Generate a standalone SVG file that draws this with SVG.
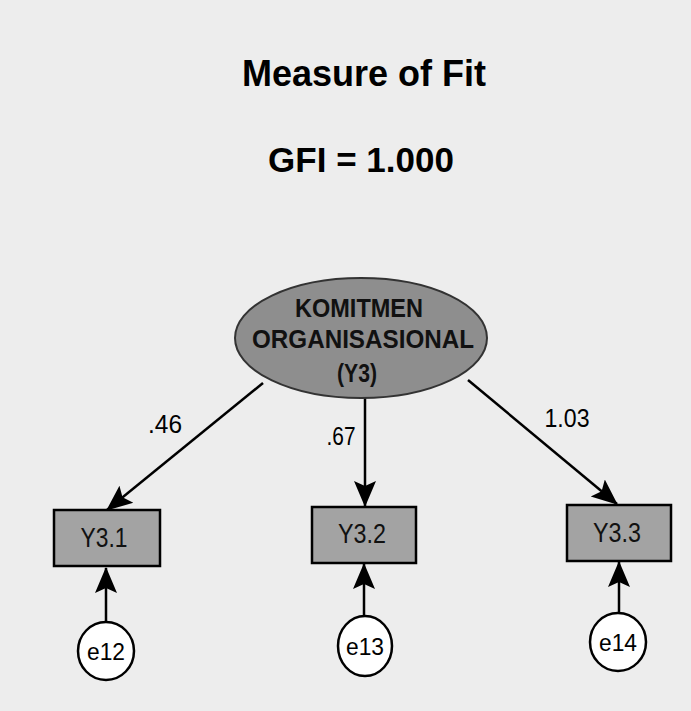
<svg xmlns="http://www.w3.org/2000/svg" width="691" height="711" viewBox="0 0 691 711">
<defs>
<marker id="ah" markerUnits="userSpaceOnUse" markerWidth="26" markerHeight="24" viewBox="0 0 26 24" refX="25" refY="12" orient="auto">
<path d="M0,1 L26,12 L0,23 L5,12 Z" fill="#000"/>
</marker>
</defs>
<style>
.title{font-family:"Liberation Sans",Arial,sans-serif;font-weight:bold;fill:#000;text-anchor:middle}
.lat{font-family:"Liberation Sans",Arial,sans-serif;font-weight:bold;font-size:25px;fill:#111;text-anchor:middle}
.obs{font-family:"Liberation Sans",Arial,sans-serif;font-size:27px;fill:#111;text-anchor:middle}
.err{font-family:"Liberation Sans",Arial,sans-serif;font-size:24px;fill:#000;text-anchor:middle}
.lbl{font-family:"Liberation Sans",Arial,sans-serif;font-size:25px;fill:#000;text-anchor:middle}
.box{fill:#a3a3a3;stroke:#000;stroke-width:2.5}
.ell{fill:#8e8e8e;stroke:#333;stroke-width:2}
.circ{fill:#fff;stroke:#000;stroke-width:2.5}
.edge{stroke:#000;stroke-width:2.5;fill:none;marker-end:url(#ah)}
</style>
<rect x="0" y="0" width="691" height="711" fill="#ededed"/>
<text class="title" x="364" y="86" font-size="36">Measure of Fit</text>
<text class="title" x="361" y="172" font-size="35">GFI = 1.000</text>
<g id="connectors">
<line class="edge" x1="263" y1="383" x2="107" y2="510"/>
<line class="edge" x1="365" y1="398" x2="365" y2="506"/>
<line class="edge" x1="468" y1="380" x2="617" y2="504"/>
<line class="edge" x1="106" y1="622" x2="106" y2="568"/>
<line class="edge" x1="364" y1="616" x2="364" y2="564"/>
<line class="edge" x1="619" y1="613" x2="619" y2="562"/>
<text class="lbl" x="165" y="433" textLength="34" lengthAdjust="spacingAndGlyphs">.46</text>
<text class="lbl" x="341" y="445" textLength="29" lengthAdjust="spacingAndGlyphs">.67</text>
<text class="lbl" x="567" y="427" textLength="45" lengthAdjust="spacingAndGlyphs">1.03</text>
</g>
<g id="komitmen">
<ellipse class="ell" cx="361" cy="338" rx="126" ry="60"/>
<text class="lat" x="359" y="317" textLength="128" lengthAdjust="spacingAndGlyphs">KOMITMEN</text>
<text class="lat" x="363" y="348" textLength="222" lengthAdjust="spacingAndGlyphs">ORGANISASIONAL</text>
<text class="lat" x="357" y="382" textLength="40" lengthAdjust="spacingAndGlyphs">(Y3)</text>
</g>
<g id="y31">
<rect class="box" x="54" y="510" width="106" height="56"/>
<text class="obs" x="104" y="547" textLength="47" lengthAdjust="spacingAndGlyphs">Y3.1</text>
</g>
<g id="y32">
<rect class="box" x="312" y="507" width="104" height="56"/>
<text class="obs" x="362" y="543" textLength="48" lengthAdjust="spacingAndGlyphs">Y3.2</text>
</g>
<g id="y33">
<rect class="box" x="567" y="505" width="104" height="56"/>
<text class="obs" x="617" y="542" textLength="48" lengthAdjust="spacingAndGlyphs">Y3.3</text>
</g>
<g id="e12">
<ellipse class="circ" cx="106" cy="651" rx="28" ry="29"/>
<text class="err" x="106" y="660" textLength="38" lengthAdjust="spacingAndGlyphs">e12</text>
</g>
<g id="e13">
<ellipse class="circ" cx="365" cy="646" rx="27" ry="30"/>
<text class="err" x="365" y="655" textLength="38" lengthAdjust="spacingAndGlyphs">e13</text>
</g>
<g id="e14">
<ellipse class="circ" cx="618" cy="642" rx="28" ry="29"/>
<text class="err" x="618" y="651" textLength="38" lengthAdjust="spacingAndGlyphs">e14</text>
</g>
</svg>
